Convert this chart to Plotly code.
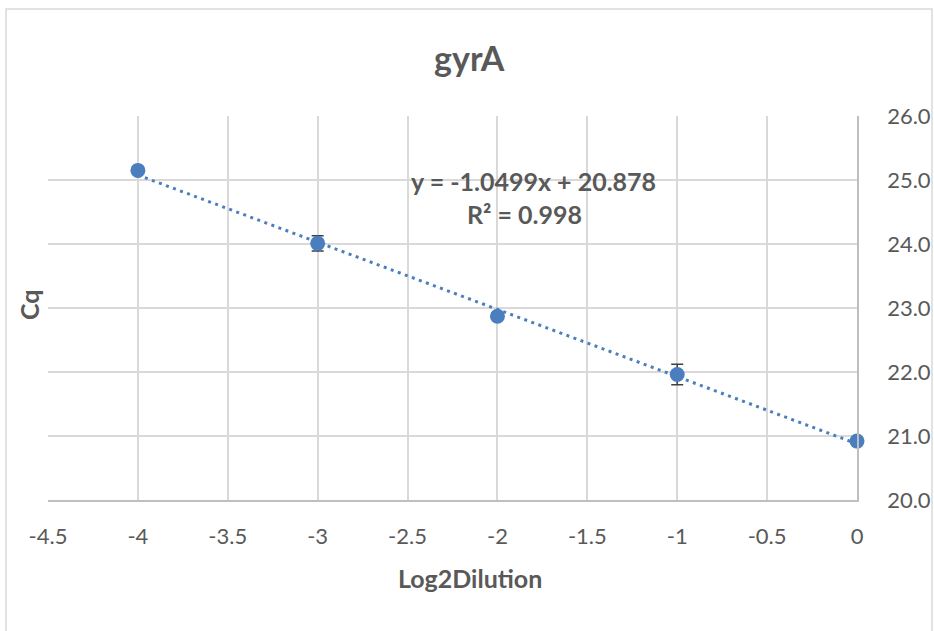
import plotly.graph_objects as go

# Data
log2_dilution = [-4, -3, -2, -1, 0]
cq_values = [25.15, 24.01, 22.87, 21.96, 20.92]
cq_errors = [0.04, 0.12, 0.05, 0.16, 0.04]
trend_slope = -1.0499
trend_intercept = 20.878
eq_text = "y = -1.0499x + 20.878"
r2_text = "R² = 0.998"
x_ticks = [-4.5, -4, -3.5, -3, -2.5, -2, -1.5, -1, -0.5, 0]
x_tick_text = ["-4.5", "-4", "-3.5", "-3", "-2.5", "-2", "-1.5", "-1", "-0.5", "0"]

W, H = 934, 631
L, R, T, B = 48, 77, 116, 131
PW, PH = W - L - R, H - T - B

def px(x):
    return (x - L) / PW

def py(y):
    return (H - B - y) / PH

FONT = "Lato"
GRAY = "#595959"
BLUE = "#4a7ebf"

trend_x = [min(log2_dilution), max(log2_dilution)]
trend_y = [trend_slope * v + trend_intercept for v in trend_x]

fig = go.Figure()
fig.add_trace(go.Scatter(
    x=trend_x, y=trend_y, mode="lines",
    line=dict(color=BLUE, width=3, dash="3px,4.5px"),
    hoverinfo="skip", showlegend=False, cliponaxis=False,
))
fig.add_trace(go.Scatter(
    x=log2_dilution, y=cq_values, mode="markers",
    marker=dict(color=BLUE, size=15),
    error_y=dict(type="data", array=cq_errors, visible=True,
                 color="#404040", thickness=1.5, width=6),
    showlegend=False, cliponaxis=False,
))

fig.update_layout(
    width=W, height=H,
    margin=dict(l=L, r=R, t=T, b=B, pad=0, autoexpand=False),
    paper_bgcolor="white", plot_bgcolor="white",
    font=dict(family=FONT, color=GRAY, size=22),
    xaxis=dict(
        range=[-4.5, 0], tickvals=x_ticks, ticktext=x_tick_text,
        showgrid=True, gridcolor="#d9d9d9", gridwidth=1.5,
        zeroline=False, showline=True, linecolor="#bfbfbf", linewidth=1.5,
        ticks="", ticklabelstandoff=16, automargin=False,
        tickfont=dict(family=FONT, size=22, color=GRAY),
    ),
    yaxis=dict(
        range=[20, 26], dtick=1, tickformat=".1f", side="right",
        showgrid=True, gridcolor="#d9d9d9", gridwidth=1.5,
        zeroline=False, showline=True, linecolor="#bfbfbf", linewidth=1.5,
        ticks="", ticklabelstandoff=24, automargin=False,
        tickfont=dict(family=FONT, size=22, color=GRAY),
    ),
    shapes=[dict(
        type="rect", xref="paper", yref="paper",
        x0=px(6), x1=px(932), y0=py(636), y1=py(9),
        line=dict(color="#d9d9d9", width=1.5), layer="below",
    )],
)

ann = [
    dict(text="<b>gyrA</b>", x=px(469), y=py(57), size=34),
    dict(text="<b>Log2Dilution</b>", x=px(470), y=py(578), size=25),
    dict(text="<b>" + eq_text + "</b>", x=px(533), y=py(181), size=25),
    dict(text="<b>" + r2_text + "</b>", x=px(524), y=py(214), size=25),
]
for a in ann:
    fig.add_annotation(
        text=a["text"], x=a["x"], y=a["y"], xref="paper", yref="paper",
        xanchor="center", yanchor="middle", showarrow=False,
        font=dict(family=FONT, size=a["size"], color=GRAY),
    )
fig.add_annotation(
    text="<b>Cq</b>", x=px(29), y=py(305), xref="paper", yref="paper",
    xanchor="center", yanchor="middle", showarrow=False, textangle=-90,
    font=dict(family=FONT, size=25, color=GRAY),
)

fig.write_html("out.html")
